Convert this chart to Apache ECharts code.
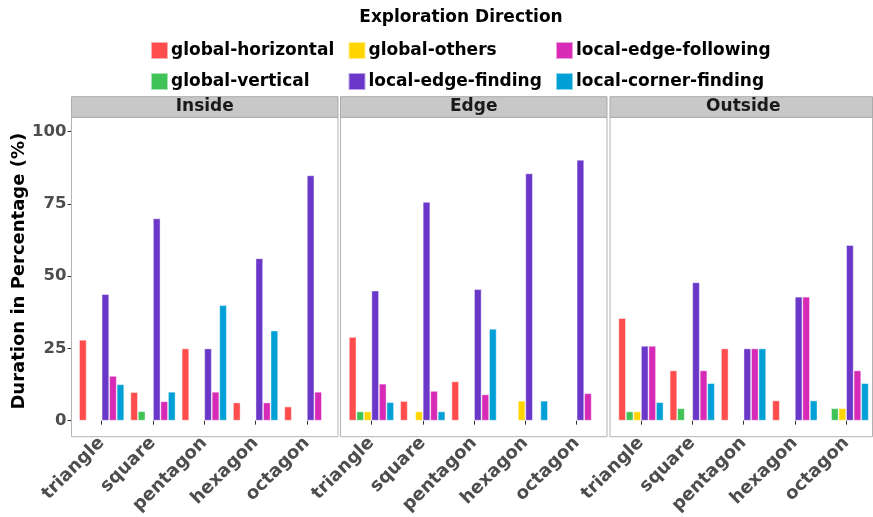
<!DOCTYPE html>
<html>
<head>
<meta charset="utf-8">
<script src="https://cdn.jsdelivr.net/npm/echarts@6/dist/echarts.min.js"></script>
<style>html,body{margin:0;padding:0;background:#fff}#chart{width:873px;height:517px}</style>
</head>
<body>
<div id="chart"></div>
<script>
// ---- data ----
const categories = ['triangle', 'square', 'pentagon', 'hexagon', 'octagon'];
const panels = ['Inside', 'Edge', 'Outside'];
const seriesNames = ['global-horizontal', 'global-vertical', 'global-others', 'local-edge-finding', 'local-edge-following', 'local-corner-finding'];
const yTicks = [0, 25, 50, 75, 100];
// each array: [Inside, Edge, Outside], each with values per category
const globalHorizontal = [[28.0, 9.9, 25.0, 6.3, 4.9], [29.0, 6.8, 13.6, null, null], [35.5, 17.4, 25.0, 7.0, null]];
const globalVertical = [[null, 3.3, null, null, null], [3.2, null, null, null, null], [3.2, 4.3, null, null, 4.3]];
const globalOthers = [[null, null, null, null, null], [3.2, 3.2, null, 6.9, null], [3.2, null, null, null, 4.3]];
const localEdgeFinding = [[43.8, 70.0, 25.0, 56.2, 84.9], [45.0, 75.7, 45.5, 85.6, 90.3], [25.9, 47.9, 25.0, 42.9, 60.8]];
const localEdgeFollowing = [[15.5, 6.7, 10.0, 6.3, 10.0], [12.8, 10.3, 9.1, null, 9.5], [25.9, 17.4, 25.0, 42.9, 17.4]];
const localCornerFinding = [[12.6, 10.0, 40.0, 31.2, null], [6.4, 3.2, 31.8, 6.9, null], [6.4, 13.0, 25.0, 7.0, 13.0]];

const seriesData = [globalHorizontal, globalVertical, globalOthers, localEdgeFinding, localEdgeFollowing, localCornerFinding];
const colors = ['#FF4D4D', '#3FC356', '#FFD500', '#6A37C9', '#D72AB6', '#00A0D6'];

// ---- layout ----
const FONT = 'DejaVu Sans';
const gridLefts = [76, 345.8, 615.3];
const gridWidth = 256.5;
const gridTop = 117.3;
const gridHeight = 319.4;
const frameX = [71.5, 340.5, 610];
const frameW = [266.5, 266.5, 262.5];
const stripTop = 96.7;

const grids = [], xAxes = [], yAxes = [], series = [], graphics = [];
panels.forEach((p, i) => {
  grids.push({ left: gridLefts[i], top: gridTop, width: gridWidth, height: gridHeight, containLabel: false });
  xAxes.push({
    type: 'category', gridIndex: i, data: categories,
    axisLine: { show: false },
    axisTick: { show: true, alignWithLabel: true, length: 4, lineStyle: { color: '#333333', width: 1 } },
    axisLabel: { interval: 0, rotate: 45, margin: 5, fontFamily: FONT, fontWeight: 'bold', fontSize: 18, color: '#4D4D4D' },
    splitLine: { show: false }
  });
  yAxes.push({
    type: 'value', gridIndex: i, min: -5, max: 105, offset: 4.5,
    axisLine: { show: false },
    axisTick: { show: i === 0, length: 4, customValues: yTicks, lineStyle: { color: '#333333' } },
    axisLabel: { show: i === 0, customValues: yTicks, margin: 5, fontFamily: FONT, fontWeight: 'bold', fontSize: 16.5, color: '#4D4D4D' },
    splitLine: { show: false },
    name: i === 0 ? 'Duration in Percentage (%)' : '',
    nameLocation: 'middle', nameGap: 39,
    nameTextStyle: { fontFamily: FONT, fontWeight: 'bold', fontSize: 18, color: '#000000', padding: [0, 0, 0, 10] }
  });
  seriesNames.forEach((n, k) => {
    series.push({
      type: 'bar', name: n, xAxisIndex: i, yAxisIndex: i,
      data: seriesData[k][i],
      barGap: '0%', barCategoryGap: '12%',
      itemStyle: { color: colors[k], borderColor: 'rgba(255,255,255,0.55)', borderWidth: 0.8 },
      emphasis: { disabled: true }
    });
  });
  // panel frame
  graphics.push({ type: 'rect', shape: { x: frameX[i], y: gridTop, width: frameW[i], height: gridHeight },
    style: { fill: 'none', stroke: '#B3B3B3', lineWidth: 1 }, z: 100, silent: true });
  // strip
  graphics.push({ type: 'rect', shape: { x: frameX[i], y: stripTop, width: frameW[i], height: gridTop - stripTop },
    style: { fill: '#C8C8C8', stroke: '#ABABAB', lineWidth: 1 }, z: 100, silent: true });
  graphics.push({ type: 'text', x: frameX[i] + (i === 2 ? 266.5 : frameW[i]) / 2, y: (stripTop + gridTop) / 2,
    style: { text: p, fill: '#1A1A1A', font: 'bold 17px "DejaVu Sans"', textAlign: 'center', textVerticalAlign: 'middle' }, z: 101, silent: true });
});
graphics.push({ type: 'text', x: 461, y: 18,
  style: { text: 'Exploration Direction', fill: '#000000', font: 'bold 17px "DejaVu Sans"', textAlign: 'center', textVerticalAlign: 'middle' }, silent: true });

const legendCols = [[seriesNames[0], seriesNames[1]], [seriesNames[2], seriesNames[3]], [seriesNames[4], seriesNames[5]]];
const legendLefts = [150, 347.5, 555];
const legends = legendCols.map((d, j) => ({
  data: d, orient: 'vertical', left: legendLefts[j], top: 41, padding: 0,
  itemWidth: 17, itemHeight: 17, itemGap: 12, icon: 'rect', selectedMode: false,
  textStyle: { fontFamily: FONT, fontWeight: 'bold', fontSize: 17, color: '#000000', padding: [0, 0, 0, -2] }
}));

const chart = echarts.init(document.getElementById('chart'), null, { renderer: 'canvas' });
chart.setOption({
  animation: false,
  backgroundColor: '#ffffff',
  grid: grids, xAxis: xAxes, yAxis: yAxes, series: series,
  legend: legends,
  graphic: graphics
});
</script>
</body>
</html>
